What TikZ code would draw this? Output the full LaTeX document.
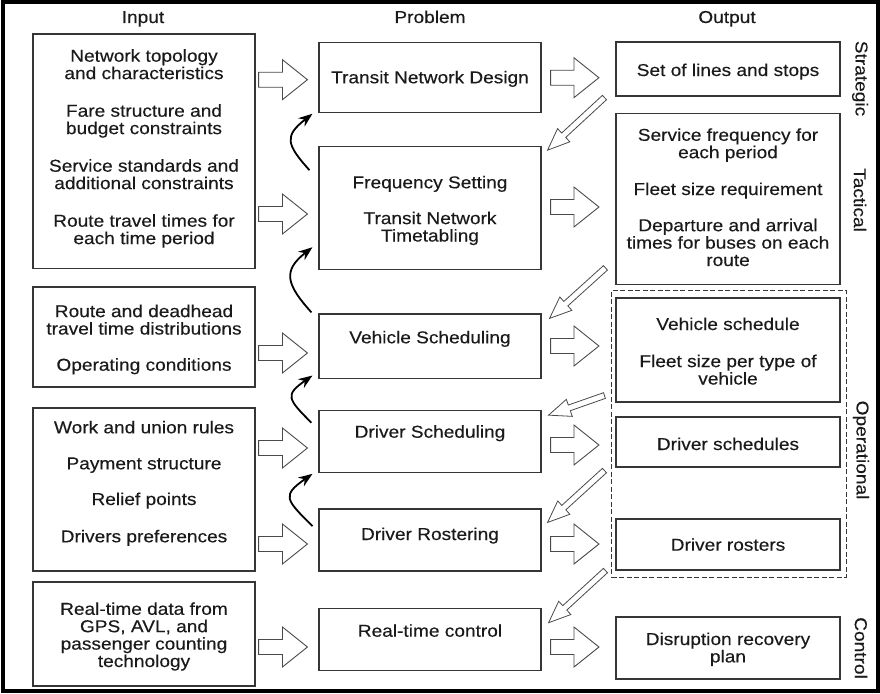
\documentclass[tikz,border=0pt]{standalone}
\usepackage{fontspec}
\setmainfont{Liberation Sans}[FakeStretch=1.11,FakeBold=0.3]
\usetikzlibrary{arrows.meta,calc}
\definecolor{ink}{HTML}{1A1A1A}
\definecolor{edge}{HTML}{363636}
\definecolor{hollowline}{HTML}{4A4A4A}

\begin{document}
\begin{tikzpicture}[x=1pt,y=-1pt,
  every node/.style={font=\fontsize{17.2}{17.4}\selectfont, text=ink},
  % multi-line texts are placed by the baseline of their last line
  txt/.style={align=center, anchor=base, inner sep=0pt},
  side/.style={rotate=-90, inner sep=0pt},
  box/.style n args={2}{draw=edge, line width=1.1pt, minimum width=#1, minimum height=#2, inner sep=0pt},
  % hollow block arrow drawn between two points: shaft half width, head half width, head length
  blockarrow/.style n args={3}{to path={
      (\tikztostart) coordinate (ba-s)
      (\tikztotarget) coordinate (ba-t)
      ($(ba-t)!#3!(ba-s)$) coordinate (ba-h)
      ($(ba-s)!#1!90:(ba-t)$)
      -- ($(ba-h)!#1!-90:(ba-s)$)
      -- ($(ba-h)!#2!-90:(ba-s)$)
      -- (ba-t)
      -- ($(ba-h)!#2!90:(ba-s)$)
      -- ($(ba-h)!#1!90:(ba-s)$)
      -- ($(ba-s)!#1!-90:(ba-t)$)
      -- cycle}},
  fatarrow/.style={draw=hollowline, fill=white, line width=0.9pt, line join=miter,
      blockarrow={7.5pt}{20pt}{25pt}},
  thinarrow/.style={draw=hollowline, fill=white, line width=0.8pt, line join=miter,
      blockarrow={3pt}{9pt}{22pt}},
  curl/.style={black, line width=1.8pt, -{Stealth[length=14pt,width=10.5pt]}},
]
\useasboundingbox (0,0) rectangle (880,693);

% outer frame
\draw[line width=4pt, black] (2.5,2.5) rectangle (877.5,690.5);

% column headings
\node[txt] (hin)  at (143,23) {Input};
\node[txt] (hpr)  at (430,23) {Problem};
\node[txt] (hout) at (727,23) {Output};

% input boxes
\node[box={222pt}{234.5pt}] (in1) at (144,151.25) {};
\node[box={222pt}{100pt}]   (in2) at (144,337) {};
\node[box={222pt}{163pt}]   (in3) at (144,489.5) {};
\node[box={222pt}{104pt}]   (in4) at (144,634) {};

% problem boxes
\node[box={222pt}{70pt}]    (p1) at (430,77.7) {};
\node[box={222pt}{122.6pt}] (p2) at (430,208) {};
\node[box={222pt}{64.7pt}]  (p3) at (430,346.3) {};
\node[box={222pt}{62pt}]    (p4) at (430,441.7) {};
\node[box={222pt}{62pt}]    (p5) at (430,540) {};
\node[box={222pt}{62.4pt}]  (p6) at (430,639.5) {};

% output boxes
\node[box={224pt}{54pt}]  (o1) at (728,69) {};
\node[box={224pt}{171pt}] (o2) at (728,198.8) {};
\node[box={224pt}{104pt}] (o3) at (728,350) {};
\node[box={224pt}{50pt}]  (o4) at (728,442) {};
\node[box={224pt}{51pt}]  (o5) at (728,544.5) {};
\node[box={224pt}{62pt}]  (o6) at (728,648) {};

% operational group
\node[draw=edge, line width=0.9pt, dash pattern=on 5pt off 2.5pt,
      minimum width=234.5pt, minimum height=287pt, inner sep=0pt] (ops) at (728.75,433.5) {};

% input texts
\node[txt] (i1a) at (144,79.1)  {Network topology\\and characteristics};
\node[txt] (i1b) at (144,134.1) {Fare structure and\\budget constraints};
\node[txt] (i1c) at (144,189.1) {Service standards and\\additional constraints};
\node[txt] (i1d) at (144,244.1) {Route travel times for\\each time period};
\node[txt] (i2a) at (144,334.5) {Route and deadhead\\travel time distributions};
\node[txt] (i2b) at (144,370.7) {Operating conditions};
\node[txt] (i3a) at (144,433.3) {Work and union rules};
\node[txt] (i3b) at (144,469.3) {Payment structure};
\node[txt] (i3c) at (144,505)   {Relief points};
\node[txt] (i3d) at (144,542.3) {Drivers preferences};
\node[txt] (i4a) at (144,667)   {Real-time data from\\GPS, AVL, and\\passenger counting\\technology};

% problem texts
\node[txt] (t1)  at (430,83.3)  {Transit Network Design};
\node[txt] (t2a) at (430,188.3) {Frequency Setting};
\node[txt] (t2b) at (430,241.5) {Transit Network\\Timetabling};
\node[txt] (t3)  at (430,343.3) {Vehicle Scheduling};
\node[txt] (t4)  at (430,437.7) {Driver Scheduling};
\node[txt] (t5)  at (430,540)   {Driver Rostering};
\node[txt] (t6)  at (430,636.7) {Real-time control};

% output texts
\node[txt] (u1)  at (728,76)    {Set of lines and stops};
\node[txt] (u2a) at (728,158.2) {Service frequency for\\each period};
\node[txt] (u2b) at (728,195)   {Fleet size requirement};
\node[txt] (u2c) at (728,266)   {Departure and arrival\\times for buses on each\\route};
\node[txt] (u3a) at (728,330)   {Vehicle schedule};
\node[txt] (u3b) at (728,384.5) {Fleet size per type of\\vehicle};
\node[txt] (u4)  at (728,450)   {Driver schedules};
\node[txt] (u5)  at (728,550.7) {Driver rosters};
\node[txt] (u6)  at (728,662.4) {Disruption recovery\\plan};

% planning levels
\node[side] (lstr) at (860,78.5) {Strategic};
\node[side] (ltac) at (860,200)  {Tactical};
\node[side] (lopr) at (861,450)  {Operational};
\node[side] (lctl) at (861,648)  {Control};

% input -> problem
\draw[fatarrow] ($(in1.east |- p1.west)+(3,2)$) to ($(p1.west)+(-11,2)$);
\draw[fatarrow] ($(in1.east |- p2.west)+(3,6)$) to ($(p2.west)+(-11,6)$);
\draw[fatarrow] ($(in2.east |- p3.west)+(3,6.7)$) to ($(p3.west)+(-11,6.7)$);
\draw[fatarrow] ($(in3.east |- p4.west)+(3,6.3)$) to ($(p4.west)+(-11,6.3)$);
\draw[fatarrow] ($(in3.east |- p5.west)+(3,4)$) to ($(p5.west)+(-11,4)$);
\draw[fatarrow] ($(in4.east |- p6.west)+(3,7.5)$) to ($(p6.west)+(-11,7.5)$);

% problem -> output
\draw[fatarrow] ($(p1.east)+(9,0)$)   to ($(o1.west |- p1.east)+(-16.5,0)$);
\draw[fatarrow] ($(p2.east)+(9,-1)$)  to ($(o2.west |- p2.east)+(-16.5,-1)$);
\draw[fatarrow] ($(p3.east)+(9,-0.3)$) to ($(o3.west |- p3.east)+(-16.5,-0.3)$);
\draw[fatarrow] ($(p4.east)+(9,3.3)$) to ($(o4.west |- p4.east)+(-16.5,3.3)$);
\draw[fatarrow] ($(p5.east)+(9,4)$)   to ($(o5.west |- p5.east)+(-16.5,4)$);
\draw[fatarrow] ($(p6.east)+(9,7.5)$) to ($(o6.west |- p6.east)+(-16.5,7.5)$);

% output -> next problem
\draw[thinarrow] ($(o1.south west)+(-11,1)$)  to ($(p2.north east)+(6,4)$);
\draw[thinarrow] ($(o2.south west)+(-10,-17)$) to ($(p3.north east)+(8,5)$);
\draw[thinarrow] ($(o3.south west)+(-11,-7)$) to ($(p4.north east)+(7,5)$);
\draw[thinarrow] ($(o4.south west)+(-11,3)$)  to ($(p5.north east)+(6,14)$);
\draw[thinarrow] ($(o5.south west)+(-10,0)$)  to ($(p6.north east)+(7,15)$);

% feedback between problems
\draw[curl] ($(p2.north west)+(-9,24)$)
  to[out=132,in=218,out distance=35pt,in distance=36pt] ($(p1.south west)+(-6,0.5)$);
\draw[curl] ($(p3.north west)+(-7,-1)$)
  to[out=132,in=218,out distance=38pt,in distance=38pt] ($(p2.south west)+(-6,-22.6)$);
\draw[curl] ($(p4.north west)+(-7,12.6)$)
  to[out=135,in=215,out distance=34pt,in distance=34pt] ($(p3.south west)+(-6,-3.7)$);
\draw[curl] ($(p5.north west)+(-6,17.7)$)
  to[out=135,in=215,out distance=38pt,in distance=38pt] ($(p4.south west)+(-6,0.6)$);
\end{tikzpicture}
\end{document}
